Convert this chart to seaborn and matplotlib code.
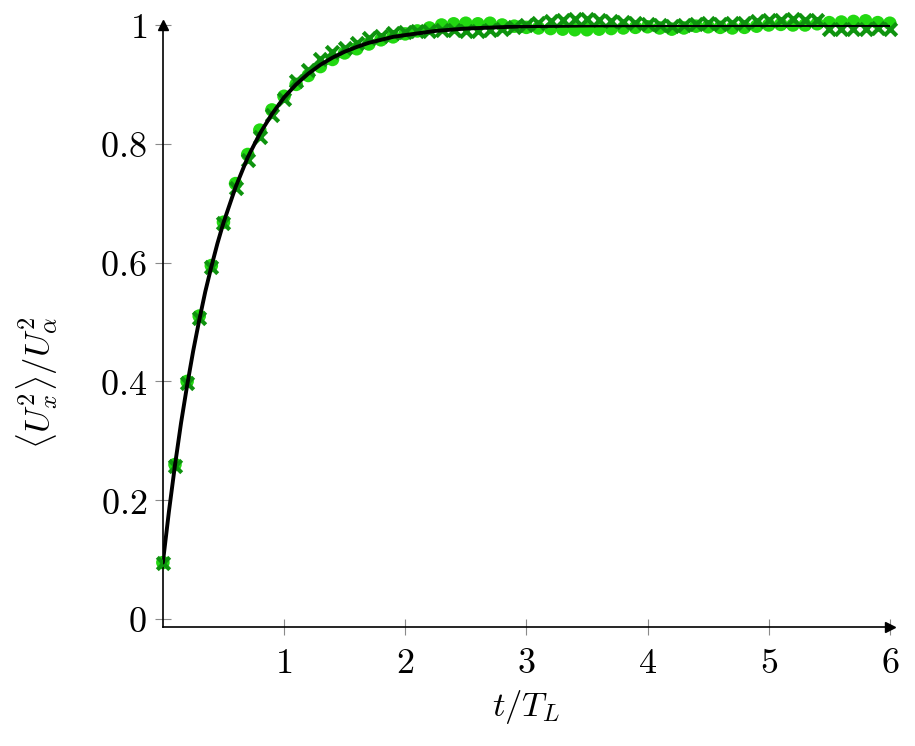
import seaborn as sns
import pandas as pd
import matplotlib.pyplot as plt
import numpy as np

sns.set_theme(style='white')
plt.rcParams['mathtext.fontset'] = 'cm'
plt.rcParams['font.family'] = ['DejaVu Serif']
plt.rcParams['text.color'] = 'black'
plt.rcParams['axes.labelcolor'] = 'black'
plt.rcParams['xtick.labelcolor'] = 'black'
plt.rcParams['ytick.labelcolor'] = 'black'

# sample times (t / T_L)
t_data = np.round(np.arange(0, 61) * 0.1, 1)

# simulation, circles
circ_vals = [0.095, 0.260, 0.400, 0.510, 0.595, 0.668, 0.733, 0.782, 0.823, 0.857,
             0.880, 0.900, 0.915, 0.930, 0.942, 0.953, 0.960, 0.968, 0.975, 0.980,
             0.985, 0.990, 0.995, 1.000, 1.002, 1.003, 1.002, 1.003, 1.000, 0.998,
             0.996, 0.995, 0.994, 0.993, 0.992, 0.992, 0.993, 0.994, 0.995, 0.996,
             0.997, 0.995, 0.993, 0.995, 0.998, 0.997, 0.996, 0.995, 0.996, 0.998,
             1.000, 1.001, 1.000, 1.000, 1.002, 1.004, 1.005, 1.006, 1.007, 1.004,
             1.003]

# simulation, crosses
cross_vals = [0.095, 0.258, 0.398, 0.507, 0.593, 0.666, 0.725, 0.772, 0.812, 0.848,
              0.875, 0.905, 0.925, 0.942, 0.955, 0.962, 0.970, 0.978, 0.982, 0.986,
              0.988, 0.990, 0.990, 0.992, 0.991, 0.990, 0.990, 0.991, 0.993, 0.996,
              1.000, 1.004, 1.006, 1.008, 1.010, 1.010, 1.008, 1.006, 1.005, 1.003,
              1.001, 1.000, 0.999, 1.000, 1.002, 1.003, 1.002, 1.003, 1.004, 1.006,
              1.008, 1.009, 1.010, 1.009, 1.008, 0.994, 0.993, 0.994, 0.993, 0.995,
              0.994]

# model curve
t_model = [0.0, 0.05, 0.1, 0.15, 0.2, 0.25, 0.3, 0.35, 0.4, 0.45, 0.5, 0.6, 0.7, 0.8,
           0.9, 1.0, 1.1, 1.2, 1.3, 1.4, 1.5, 1.6, 1.7, 1.8, 1.9, 2.0, 2.25, 2.5,
           3.0, 3.5, 4.0, 5.0, 6.0]
model_vals = [0.095, 0.181, 0.259, 0.330, 0.393, 0.451, 0.503, 0.551, 0.593, 0.632,
              0.667, 0.727, 0.777, 0.817, 0.850, 0.878, 0.900, 0.918, 0.933, 0.945,
              0.955, 0.963, 0.970, 0.975, 0.980, 0.983, 0.990, 0.994, 0.998, 0.9992,
              0.9997, 1.000, 1.000]

x_ticks = [1, 2, 3, 4, 5, 6]
y_ticks = [0, 0.2, 0.4, 0.6, 0.8, 1]

sim = pd.DataFrame({'t': t_data, 'circ': circ_vals, 'cross': cross_vals})
model = pd.DataFrame({'t': t_model, 'v': model_vals})

fig = plt.figure(figsize=(9.15, 7.46), dpi=100)
ax = fig.add_axes([0.178, 0.1595, 0.7945, 0.807])

sns.scatterplot(data=sim, x='t', y='circ', ax=ax, marker='o', s=95, color='#22d811',
                edgecolor='none', zorder=2, clip_on=False)
sns.scatterplot(data=sim, x='t', y='cross', ax=ax, marker='x', s=80, color='#0e930e',
                linewidth=3.0, zorder=3, clip_on=False)
sns.lineplot(data=model, x='t', y='v', ax=ax, color='black', lw=2.8, zorder=4)

ax.set_xlim(0, 6)
ax.set_ylim(-0.0135, 1.0)

for s in ['top', 'right']:
    ax.spines[s].set_visible(False)
for s in ['left', 'bottom']:
    ax.spines[s].set_color('black')
    ax.spines[s].set_linewidth(1.2)

# arrow heads on the axis lines
ax.plot(1, 0, '>', color='black', ms=7, transform=ax.transAxes, clip_on=False, zorder=5)
ax.plot(0, 1, '^', color='black', ms=7, transform=ax.transAxes, clip_on=False, zorder=5)

ax.set_xticks(x_ticks)
ax.set_xticklabels([f'${v}$' for v in x_ticks])
ax.set_yticks(y_ticks)
ax.set_yticklabels([f'${v:g}$' for v in y_ticks])
ax.tick_params(axis='both', direction='inout', length=11, width=0.8, color='#8a8a8a',
               labelsize=26, bottom=True, left=True, pad=6)
ax.tick_params(axis='x', pad=8)

ax.set_xlabel(r'$t/T_L$', fontsize=25, labelpad=6)
ax.set_ylabel(r'$\langle U_x^2\rangle/U_\alpha^2$', fontsize=25)
ax.yaxis.set_label_coords(-0.142, 0.405)

fig.savefig('out.png', dpi=100)
